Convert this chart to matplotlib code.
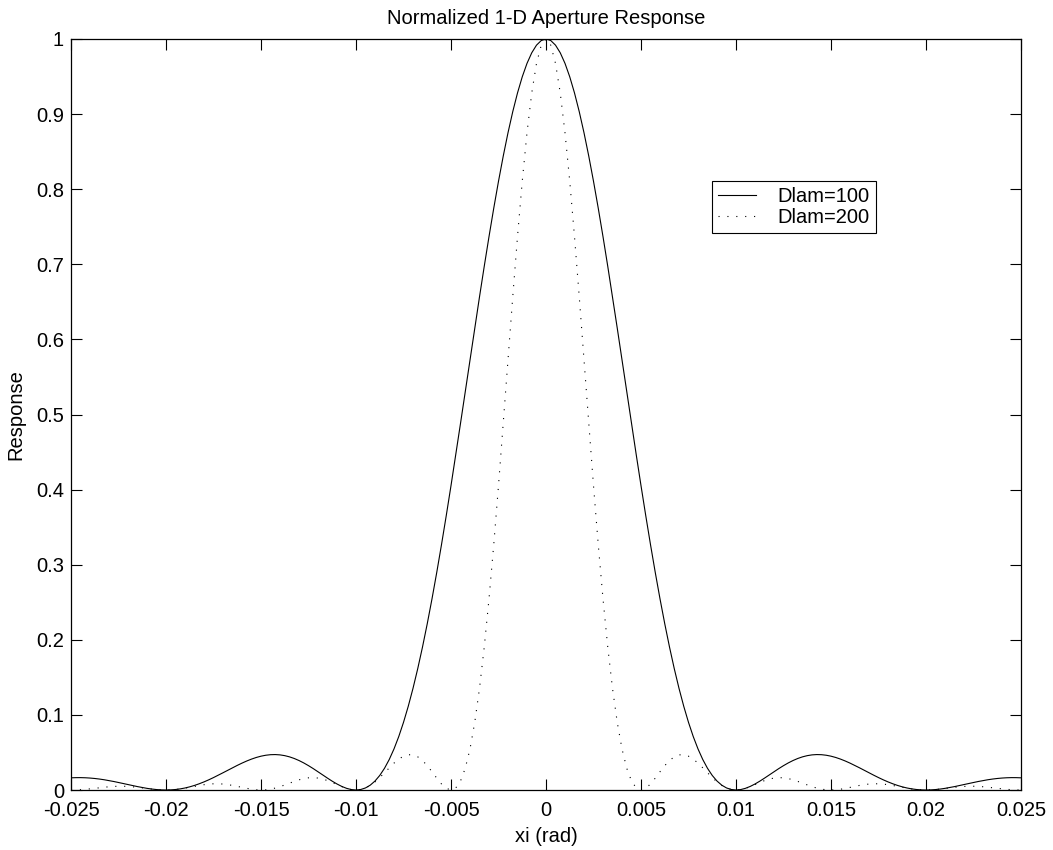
import matplotlib
matplotlib.use("Agg")
import matplotlib.pyplot as plt

plt.rcParams['font.family'] = ['Liberation Sans', 'DejaVu Sans']

# Sample positions (rad), step 0.00025, from 0 to 0.025 (curves are symmetric about 0)
xi_half = [i * 0.00025 for i in range(101)]

# Response values at xi = 0, 0.00025, ..., 0.025
resp100_half = [
    1.0, 0.99795, 0.99181, 0.98163, 0.96753, 0.94964, 0.92813, 0.90322, 0.87514, 0.84416,
    0.81057, 0.77469, 0.73684, 0.69737, 0.65664, 0.61499, 0.57279, 0.53038, 0.48811, 0.44630,
    0.40528, 0.36534, 0.32675, 0.28975, 0.25457, 0.22140, 0.19039, 0.16167, 0.13534, 0.11146,
    0.09006, 0.07115, 0.05470, 0.04064, 0.02890, 0.01938, 0.01194, 0.00645, 0.00275, 0.00066,
    0.0, 0.00059, 0.00225, 0.00478, 0.00800, 0.01172, 0.01579, 0.02004, 0.02431, 0.02848,
    0.03242, 0.03604, 0.03924, 0.04196, 0.04414, 0.04574, 0.04676, 0.04718, 0.04701, 0.04628,
    0.04503, 0.04330, 0.04114, 0.03862, 0.03580, 0.03275, 0.02955, 0.02625, 0.02295, 0.01969,
    0.01654, 0.01356, 0.01080, 0.00831, 0.00610, 0.00422, 0.00268, 0.00149, 0.00065, 0.00016,
    0.0, 0.00015, 0.00059, 0.00128, 0.00219, 0.00329, 0.00452, 0.00585, 0.00723, 0.00863,
    0.01001, 0.01132, 0.01254, 0.01363, 0.01457, 0.01533, 0.01591, 0.01629, 0.01647, 0.01644,
    0.01621]
resp200_half = [
    1.0, 0.99181, 0.96753, 0.92813, 0.87514, 0.81057, 0.73684, 0.65664, 0.57279, 0.48811,
    0.40528, 0.32675, 0.25457, 0.19039, 0.13534, 0.09006, 0.05470, 0.02890, 0.01194, 0.00275,
    0.0, 0.00225, 0.00800, 0.01579, 0.02431, 0.03242, 0.03924, 0.04414, 0.04676, 0.04701,
    0.04503, 0.04114, 0.03580, 0.02955, 0.02295, 0.01654, 0.01080, 0.00610, 0.00268, 0.00065,
    0.0, 0.00059, 0.00219, 0.00452, 0.00723, 0.01001, 0.01254, 0.01457, 0.01591, 0.01647,
    0.01621, 0.01520, 0.01356, 0.01145, 0.00910, 0.00670, 0.00447, 0.00257, 0.00115, 0.00028,
    0.0, 0.00027, 0.00101, 0.00210, 0.00342, 0.00480, 0.00609, 0.00717, 0.00793, 0.00830,
    0.00827, 0.00784, 0.00707, 0.00604, 0.00484, 0.00360, 0.00242, 0.00141, 0.00064, 0.00016,
    0.0, 0.00015, 0.00058, 0.00121, 0.00198, 0.00280, 0.00359, 0.00425, 0.00473, 0.00499,
    0.00500, 0.00477, 0.00433, 0.00372, 0.00300, 0.00225, 0.00152, 0.00089, 0.00040, 0.00010,
    0.0]

series_labels = ['Dlam=100', 'Dlam=200']
xticks = [-0.025, -0.02, -0.015, -0.01, -0.005, 0, 0.005, 0.01, 0.015, 0.02, 0.025]
xtick_labels = ['-0.025', '-0.02', '-0.015', '-0.01', '-0.005', '0', '0.005', '0.01', '0.015', '0.02', '0.025']
yticks = [0, 0.1, 0.2, 0.3, 0.4, 0.5, 0.6, 0.7, 0.8, 0.9, 1]
ytick_labels = ['0', '0.1', '0.2', '0.3', '0.4', '0.5', '0.6', '0.7', '0.8', '0.9', '1']

# Full symmetric curves
xi = [-v for v in xi_half[:0:-1]] + xi_half
resp100 = resp100_half[:0:-1] + resp100_half
resp200 = resp200_half[:0:-1] + resp200_half

FS = 14.5

fig = plt.figure(figsize=(10.53, 8.5), dpi=100)
ax = fig.add_axes([71/1053, 60/850, 950/1053, 751/850])

ax.plot(xi, resp100, color='black', lw=0.8, label=series_labels[0])
ax.plot(xi, resp200, color='black', lw=0.8, linestyle=(0, (1, 7)), label=series_labels[1])

ax.set_xlim(-0.025, 0.025)
ax.set_ylim(0, 1)
ax.set_xticks(xticks)
ax.set_xticklabels(xtick_labels)
ax.set_yticks(yticks)
ax.set_yticklabels(ytick_labels)
ax.tick_params(direction='in', top=True, right=True, length=8, width=0.8,
               labelsize=FS)
ax.tick_params(axis='x', pad=8)
ax.tick_params(axis='y', pad=5)
for s in ax.spines.values():
    s.set_linewidth(0.9)

ax.set_title('Normalized 1-D Aperture Response', fontsize=FS, pad=11)
ax.set_xlabel('xi (rad)', fontsize=FS, labelpad=5)
ax.set_ylabel('Response', fontsize=FS, labelpad=7.5)

leg = ax.legend(loc='upper left', bbox_to_anchor=(0.675, 0.811), fontsize=FS,
                frameon=True, fancybox=False, edgecolor='black', framealpha=1,
                borderpad=0.3, labelspacing=0.08, handlelength=1.85, handletextpad=1.1,
                borderaxespad=0)
leg.get_frame().set_linewidth(0.8)

fig.savefig('out.png', dpi=100)
